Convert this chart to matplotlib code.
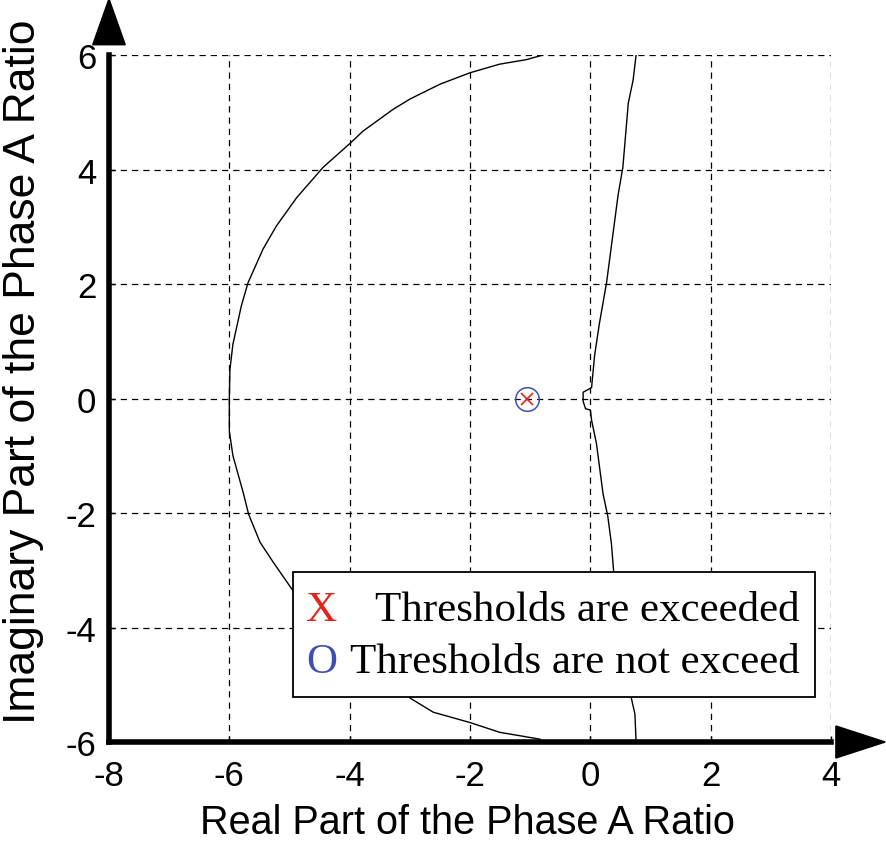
import matplotlib
matplotlib.use("Agg")
import matplotlib.pyplot as plt
from matplotlib.patches import Polygon, Rectangle

plt.rcParams["axes.unicode_minus"] = False

# boundary curves (real, imaginary)
arc_x = [-0.79, -1.06, -1.51, -2.0, -2.5, -3.0, -3.28, -3.78, -3.98, -4.44,
         -4.88, -5.22, -5.44, -5.69, -5.80, -5.94, -5.99, -6.0, -6.0, -5.94,
         -5.77, -5.68, -5.49, -5.27, -4.94, -4.45, -3.95, -3.45, -2.97, -2.61,
         -2.0, -1.51, -0.84, -0.80]
arc_y = [6.0, 5.92, 5.84, 5.69, 5.49, 5.23, 5.05, 4.67, 4.47, 4.04,
         3.51, 3.01, 2.61, 2.02, 1.62, 0.95, 0.51, 0.0, -0.57, -1.0,
         -1.64, -2.02, -2.51, -2.86, -3.36, -4.0, -4.47, -4.9, -5.25, -5.48,
         -5.66, -5.83, -5.95, -6.0]

line_x = [0.76, 0.71, 0.63, 0.54, 0.46, 0.40, 0.27, 0.15, 0.07, 0.02,
          -0.12, -0.12, -0.08, 0.0, 0.02, 0.10, 0.15, 0.21, 0.29, 0.35,
          0.39, 0.47, 0.55, 0.62, 0.68, 0.74, 0.76]
line_y = [6.0, 5.56, 5.16, 4.04, 3.55, 3.07, 2.03, 1.31, 0.75, 0.19,
          0.11, -0.05, -0.18, -0.2, -0.38, -0.78, -1.18, -1.66, -2.06, -2.54,
          -3.06, -3.6, -4.2, -4.8, -5.23, -5.51, -6.0]

pt_x = [-1.05]
pt_y = [0.0]

x_ticks = [-8, -6, -4, -2, 0, 2, 4]
y_ticks = [-6, -4, -2, 0, 2, 4, 6]

RED = "#E2231A"
BLUE = "#3F4DB5"
SANS = "Liberation Sans"
SERIF = "Liberation Serif"

fig = plt.figure(figsize=(8.86, 8.45), dpi=100)
ax = fig.add_axes([0.123, 0.1207, 0.815, 0.813])
ax.set_xlim(-8, 4)
ax.set_ylim(-6, 6)

ax.grid(True, color="black", linestyle=(0, (5, 4)), linewidth=0.9)
ax.set_axisbelow(True)

ax.plot(arc_x, arc_y, color="black", lw=1.0, zorder=3)
ax.plot(line_x, line_y, color="black", lw=1.0, zorder=3)

ax.plot(pt_x, pt_y, "o", ms=17, mfc="none", mec=BLUE, mew=1.1, zorder=4)
ax.plot(pt_x, pt_y, "x", ms=8, color=RED, mew=1.2, zorder=4)

for s in ["top", "right"]:
    ax.spines[s].set_visible(False)
for s in ["left", "bottom"]:
    ax.spines[s].set_linewidth(4)
    ax.spines[s].set_color("black")

ax.set_xticks(x_ticks)
ax.set_yticks(y_ticks)
ax.tick_params(direction="in", length=4, width=1)
ax.tick_params(axis="x", pad=12)
ax.tick_params(axis="y", pad=9)
for lab in ax.get_xticklabels() + ax.get_yticklabels():
    lab.set_fontfamily(SANS)
    lab.set_fontsize(25)

ax.set_xlabel("Real Part of the Phase A Ratio", fontsize=28.5, fontfamily=SANS)
ax.xaxis.label.set_va("bottom")
ax.xaxis.set_label_coords(0.497, -0.1445)
ax.set_ylabel("Imaginary Part of the Phase A Ratio", fontsize=32, fontfamily=SANS)
ax.yaxis.set_label_coords(-0.09, 0.54)

# arrow heads at the end of the axes
ax.add_patch(Polygon([[-8.27, 6.18], [-7.73, 6.18], [-8.0, 6.98]],
                     closed=True, color="black", clip_on=False, zorder=6))
ax.add_patch(Polygon([[4.08, -5.72], [4.08, -6.28], [4.9, -6.0]],
                     closed=True, color="black", clip_on=False, zorder=6))

# hand-made legend box
ax.add_patch(Rectangle((0.255, 0.0655), 0.723, 0.182, transform=ax.transAxes,
                       facecolor="white", edgecolor="black", lw=1.3, zorder=5))
ax.text(0.295, 0.192, "X", color=RED, fontsize=31, fontfamily=SERIF,
        ha="center", va="center", transform=ax.transAxes, zorder=6)
ax.text(0.368, 0.192, "Thresholds are exceeded", fontsize=31, fontfamily=SERIF,
        ha="left", va="center", transform=ax.transAxes, zorder=6)
ax.text(0.295, 0.117, "O", color=BLUE, fontsize=31, fontfamily=SERIF,
        ha="center", va="center", transform=ax.transAxes, zorder=6)
ax.text(0.334, 0.117, "Thresholds are not exceed", fontsize=31, fontfamily=SERIF,
        ha="left", va="center", transform=ax.transAxes, zorder=6)

fig.savefig("out.png", dpi=100, facecolor="white")
